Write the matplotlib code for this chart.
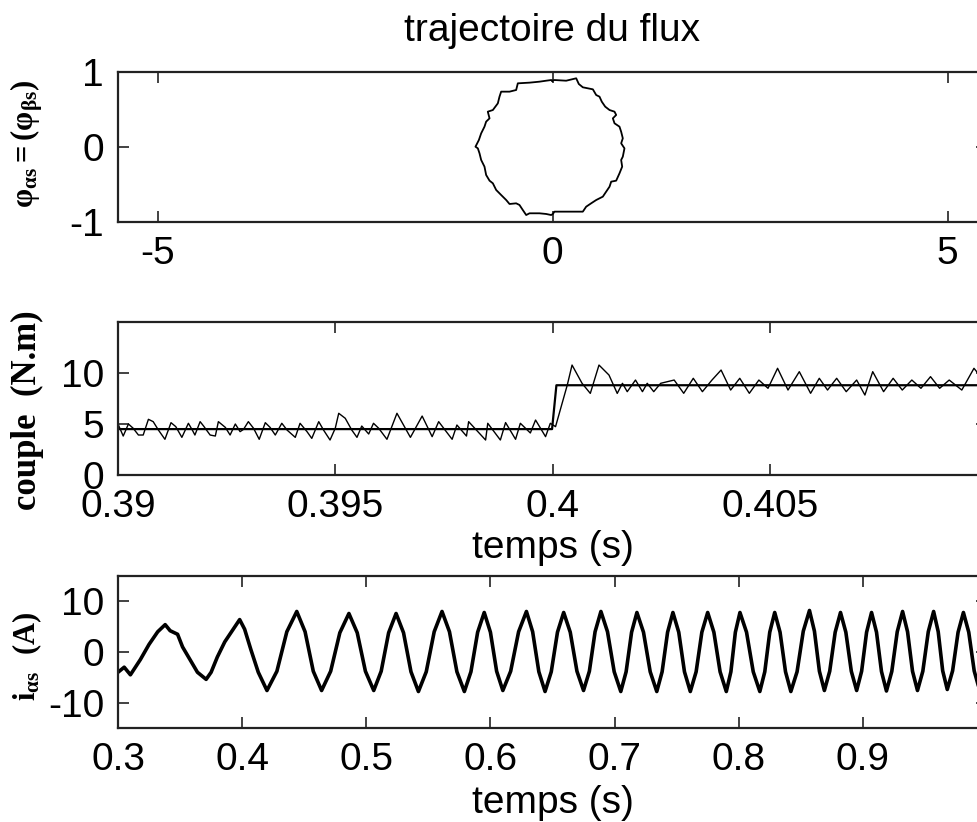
import matplotlib
matplotlib.use("Agg")
import matplotlib.pyplot as plt

plt.rcParams['font.family'] = ['Liberation Sans', 'DejaVu Sans']
plt.rcParams['axes.unicode_minus'] = False
plt.rcParams['mathtext.fontset'] = 'custom'
plt.rcParams['mathtext.bf'] = 'Liberation Serif:bold'
plt.rcParams['mathtext.rm'] = 'Liberation Serif:bold'
plt.rcParams['mathtext.it'] = 'Liberation Serif:bold'

# flux trajectory (phi_alpha, phi_beta)
flux_a = [-0.004, 0.025, 0.173, 0.300, 0.333, 0.384, 0.511, 0.553, 0.595, 0.624,
          0.667, 0.722, 0.785, 0.806, 0.764, 0.785, 0.848, 0.869, 0.890, 0.869,
          0.911, 0.890, 0.869, 0.882, 0.848, 0.806, 0.743, 0.722, 0.679, 0.637,
          0.553, 0.489, 0.426, 0.384, 0.173, 0.025, 0.004, -0.017, -0.080, -0.165,
          -0.291, -0.333, -0.376, -0.418, -0.460, -0.544, -0.586, -0.650, -0.713, -0.755,
          -0.797, -0.840, -0.861, -0.903, -0.924, -0.945, -0.975, -0.932, -0.903, -0.861,
          -0.840, -0.797, -0.819, -0.755, -0.692, -0.671, -0.650, -0.544, -0.460, -0.439,
          -0.291, -0.165, -0.080, -0.017, -0.004]
flux_b = [0.884, 0.893, 0.884, 0.916, 0.840, 0.796, 0.769, 0.693, 0.671, 0.604,
          0.538, 0.493, 0.471, 0.427, 0.382, 0.316, 0.271, 0.204, 0.116, 0.049,
          -0.018, -0.129, -0.173, -0.262, -0.351, -0.449, -0.462, -0.529, -0.596, -0.662,
          -0.707, -0.751, -0.796, -0.862, -0.862, -0.862, -0.893, -0.907, -0.893, -0.884,
          -0.884, -0.907, -0.840, -0.773, -0.751, -0.760, -0.707, -0.640, -0.573, -0.484,
          -0.449, -0.373, -0.262, -0.173, -0.084, -0.018, 0.004, 0.093, 0.182, 0.271,
          0.338, 0.382, 0.471, 0.493, 0.582, 0.671, 0.738, 0.738, 0.760, 0.849,
          0.858, 0.871, 0.884, 0.893, 0.884]

# electromagnetic torque around the load step
t_couple = [0.39001, 0.39012, 0.39024, 0.39035, 0.39047, 0.39058, 0.39070, 0.39081, 0.39093, 0.39108,
            0.39122, 0.39133, 0.39147, 0.39162, 0.39171, 0.39177, 0.39189, 0.39197, 0.39212, 0.39224,
            0.39231, 0.39247, 0.39258, 0.39270, 0.39281, 0.39289, 0.39300, 0.39312, 0.39325, 0.39339,
            0.39350, 0.39362, 0.39377, 0.39389, 0.39408, 0.39419, 0.39435, 0.39446, 0.39462, 0.39473,
            0.39488, 0.39500, 0.39508, 0.39523, 0.39538, 0.39550, 0.39561, 0.39577, 0.39588, 0.39600,
            0.39619, 0.39642, 0.39673, 0.39700, 0.39723, 0.39738, 0.39769, 0.39780, 0.39802, 0.39807,
            0.39846, 0.39851, 0.39880, 0.39892, 0.39915, 0.39926, 0.39949, 0.39961, 0.39984, 0.39995,
            0.40007, 0.40034, 0.40045, 0.40068, 0.40087, 0.40107, 0.40130, 0.40149, 0.40161, 0.40172,
            0.40191, 0.40207, 0.40218, 0.40233, 0.40249, 0.40280, 0.40302, 0.40324, 0.40345, 0.40367,
            0.40388, 0.40410, 0.40431, 0.40453, 0.40475, 0.40496, 0.40518, 0.40542, 0.40568, 0.40594,
            0.40614, 0.40633, 0.40654, 0.40676, 0.40700, 0.40719, 0.40737, 0.40762, 0.40784, 0.40805,
            0.40827, 0.40848, 0.40870, 0.40891, 0.40913, 0.40942, 0.40970, 0.40992, 0.41014]
couple = [4.90, 3.82, 5.00, 4.58, 3.92, 3.92, 5.46, 5.23, 4.41, 3.50,
          5.13, 4.74, 3.69, 5.07, 4.41, 3.92, 5.23, 4.80, 3.92, 3.82,
          5.23, 4.67, 3.92, 5.00, 4.25, 4.48, 5.23, 4.58, 3.50, 5.13,
          4.67, 3.92, 5.07, 4.41, 3.69, 5.07, 4.25, 3.59, 5.23, 4.41,
          3.43, 4.58, 6.05, 5.56, 4.41, 3.69, 4.80, 4.02, 5.07, 4.58,
          3.50, 6.05, 3.69, 5.78, 3.76, 5.23, 3.50, 4.90, 3.82, 5.23,
          3.43, 5.07, 3.43, 5.14, 3.50, 5.07, 4.12, 5.39, 3.76, 5.07,
          4.74, 8.82, 10.78, 8.99, 8.00, 10.78, 9.80, 8.00, 8.99, 8.17,
          9.31, 8.17, 8.99, 8.17, 8.99, 9.31, 8.01, 9.48, 8.17, 9.31,
          10.29, 8.33, 9.48, 8.01, 9.31, 8.50, 10.46, 8.33, 10.13, 8.01,
          9.48, 8.33, 9.48, 8.17, 9.31, 7.84, 10.13, 8.17, 9.48, 8.33,
          9.31, 8.50, 9.64, 8.50, 9.31, 8.33, 10.46, 9.30, 8.30]

# torque reference
t_ref = [0.39, 0.39999, 0.40009, 0.41]
couple_ref = [4.5, 4.5, 8.8, 8.8]

# stator current i_alpha_s
t_courant = [0.300, 0.305, 0.310, 0.318, 0.325, 0.332, 0.338, 0.342, 0.348, 0.352,
             0.358, 0.364, 0.371, 0.375, 0.380, 0.386, 0.392, 0.398, 0.402, 0.407,
             0.413, 0.420, 0.428, 0.436, 0.444, 0.4507, 0.4573, 0.464, 0.4713, 0.4787,
             0.486, 0.4927, 0.4993, 0.506, 0.512, 0.518, 0.524, 0.530, 0.536, 0.542,
             0.5483, 0.5547, 0.561, 0.567, 0.573, 0.579, 0.5843, 0.5897, 0.595, 0.600,
             0.605, 0.610, 0.6163, 0.6227, 0.629, 0.634, 0.639, 0.644, 0.649, 0.654,
             0.659, 0.6643, 0.6697, 0.675, 0.6797, 0.6843, 0.689, 0.6943, 0.6997, 0.705,
             0.7093, 0.7137, 0.718, 0.7233, 0.7287, 0.734, 0.7383, 0.7427, 0.747, 0.7517,
             0.7563, 0.761, 0.7657, 0.7703, 0.775, 0.780, 0.785, 0.790, 0.7937, 0.7973,
             0.801, 0.8063, 0.8117, 0.817, 0.821, 0.825, 0.829, 0.8333, 0.8377, 0.842,
             0.847, 0.852, 0.857, 0.861, 0.865, 0.869, 0.8733, 0.8777, 0.882, 0.8863,
             0.8907, 0.895, 0.899, 0.903, 0.907, 0.911, 0.915, 0.919, 0.9233, 0.9277,
             0.932, 0.936, 0.940, 0.944, 0.9483, 0.9527, 0.957, 0.9607, 0.9643, 0.968,
             0.9723, 0.9767, 0.981, 0.9853, 0.9897, 0.994, 0.997, 1.000]
courant = [-4.0, -3.0, -4.5, -1.5, 1.5, 4.0, 5.4, 4.2, 3.5, 1.0,
           -1.5, -4.0, -5.4, -4.0, -1.0, 2.0, 4.2, 6.4, 4.5, 0.5,
           -4.0, -7.6, -3.8, 4.0, 8.0, 4.0, -3.8, -7.6, -3.8, 3.8,
           7.6, 3.8, -3.8, -7.6, -3.8, 3.8, 7.6, 3.8, -3.9, -7.8,
           -3.9, 4.0, 8.0, 4.0, -3.9, -7.8, -3.9, 3.9, 7.8, 3.9,
           -3.8, -7.6, -3.8, 4.0, 8.0, 4.0, -3.9, -7.8, -3.9, 3.9,
           7.8, 3.9, -3.8, -7.6, -3.8, 4.0, 8.0, 4.0, -3.9, -7.8,
           -3.9, 3.9, 7.8, 3.9, -3.9, -7.8, -3.9, 3.9, 7.8, 3.9,
           -3.9, -7.8, -3.9, 3.9, 7.8, 3.9, -3.9, -7.8, -3.9, 3.9,
           7.8, 3.9, -3.9, -7.8, -3.9, 3.9, 7.8, 3.9, -3.9, -7.8,
           -3.9, 4.1, 8.2, 4.1, -3.8, -7.6, -3.8, 3.9, 7.8, 3.9,
           -3.8, -7.6, -3.8, 3.9, 7.8, 3.9, -3.85, -7.7, -3.85, 4.0,
           8.0, 4.0, -3.8, -7.6, -3.8, 4.0, 8.0, 4.0, -3.7, -7.4,
           -3.7, 3.9, 7.8, 3.9, -3.75, -7.5, -5.0, -2.5]

W, H = 978, 822
fig = plt.figure(figsize=(W / 100, H / 100), dpi=100)


def box(left, top, right, bottom):
    return [left / W, 1 - bottom / H, (right - left) / W, (bottom - top) / H]


ax1 = fig.add_axes(box(118, 72, 987, 222))
ax2 = fig.add_axes(box(118, 322, 987, 475))
ax3 = fig.add_axes(box(118, 576, 987, 728))

for ax in (ax1, ax2, ax3):
    for s in ax.spines.values():
        s.set_linewidth(1.6)
        s.set_color('#222222')
    ax.tick_params(direction='in', top=True, right=True, length=8, width=1.2,
                   labelsize=28, pad=10, color='#222222')

ax1.plot(flux_a, flux_b, color='black', lw=1.3)
ax1.set_xlim(-5.5, 5.5)
ax1.set_ylim(-1, 1)
ax1.set_xticks([-5, 0, 5])
ax1.set_yticks([-1, 0, 1])
ax1.set_title('trajectoire du flux', fontsize=28, pad=22)

ax2.plot(t_couple, couple, color='black', lw=1.0)
ax2.plot(t_ref, couple_ref, color='black', lw=1.6)
ax2.set_xlim(0.39, 0.41)
ax2.set_ylim(0, 15)
ax2.set_xticks([0.39, 0.395, 0.4, 0.405, 0.41])
# last label falls past the right edge of the figure
ax2.set_xticklabels(['0.39', '0.395', '0.4', '0.405', ''])
ax2.set_yticks([0, 5, 10])
ax2.set_xlabel('temps (s)', fontsize=28, labelpad=4)

ax3.plot(t_courant, courant, color='black', lw=2.6)
ax3.set_xlim(0.3, 1.0)
ax3.set_ylim(-15, 15)
ax3.set_xticks([0.3, 0.4, 0.5, 0.6, 0.7, 0.8, 0.9, 1.0])
ax3.set_xticklabels(['0.3', '0.4', '0.5', '0.6', '0.7', '0.8', '0.9', ''])
ax3.set_yticks([-10, 0, 10])
ax3.set_xlabel('temps (s)', fontsize=28, labelpad=5)

# axis names in bold serif
fig.text(27 / W, 1 - 144 / H, r'$\mathbf{\varphi_{\alpha s} = (\varphi_{\beta s})}$',
         rotation=90, ha='center', va='center', fontsize=22)
fig.text(27 / W, 1 - 410 / H, 'couple  (N.m)', family='Liberation Serif', weight='bold',
         rotation=90, ha='center', va='center', fontsize=25)
fig.text(27 / W, 1 - 656 / H, r'$\mathbf{i_{\alpha s}}$  $\mathbf{(A)}$',
         rotation=90, ha='center', va='center', fontsize=22)

fig.savefig('out.png', dpi=100)
